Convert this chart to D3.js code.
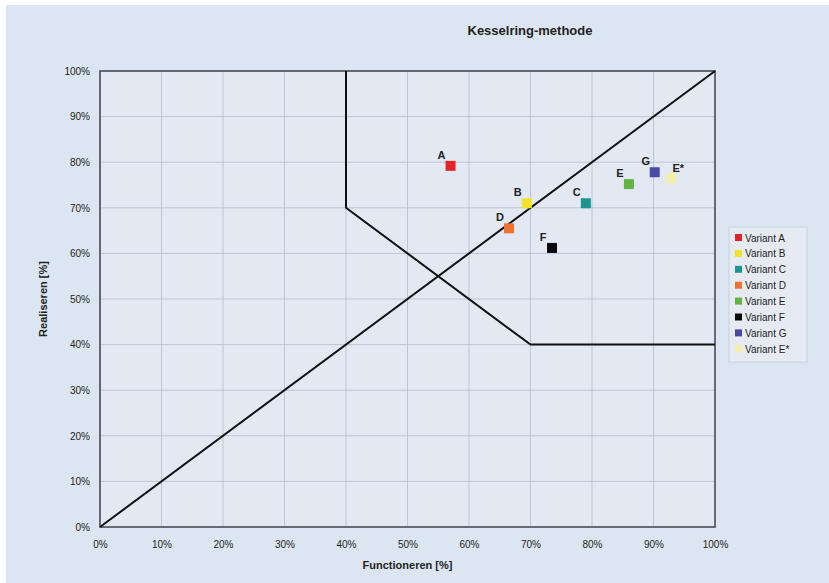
<!DOCTYPE html>
<html lang="nl">
<head>
  <meta charset="UTF-8" />
  <title>Kesselring-methode</title>
  <script src="https://d3js.org/d3.v7.min.js"></script>
  <style>
    html, body { margin: 0; padding: 0; background: #fff; }
    svg { display: block; font-family: "Liberation Sans", Arial, sans-serif; }
    .grid line { stroke: #b4bccb; stroke-width: 0.8px; }
    .tick text { fill: #222; font-size: 10px; }
    .frame { fill: none; stroke: #4a4f58; stroke-width: 1.6px; }
    .ref-line { fill: none; stroke: #111; stroke-width: 2px; }
  </style>
</head>
<body>
  <svg id="chart" width="829" height="583"></svg>

  <script>
    // variants: functioneren (x) vs realiseren (y), in %
    const labels = ['A', 'B', 'C', 'D', 'E', 'F', 'G', 'E*'];
    const legendNames = ['Variant A', 'Variant B', 'Variant C', 'Variant D', 'Variant E', 'Variant F', 'Variant G', 'Variant E*'];
    const functioneren = [57, 69.4, 79, 66.5, 86, 73.5, 90.2, 92.9];
    const realiseren = [79.2, 71, 71, 65.5, 75.2, 61.2, 77.8, 76.5];
    const colors = ['#e3242b', '#f2e227', '#1e9491', '#ee7333', '#62b343', '#0a0a0a', '#4a4aa6', '#f1f0a6'];

    // Kesselring boundary and diagonal
    const boundaryX = [40, 40, 70, 100];
    const boundaryY = [100, 70, 40, 40];
    const diagX = [0, 100];
    const diagY = [0, 100];

    const ticks = d3.range(0, 101, 10);

    const svg = d3.select('#chart');
    const W = 829, H = 583;
    const m = { left: 100, right: 715, top: 71, bottom: 527 };

    // page background with white strip on top/left
    svg.append('rect').attr('x', 0).attr('y', 0).attr('width', W).attr('height', H).attr('fill', '#fff');
    svg.append('rect').attr('x', 6).attr('y', 5).attr('width', W - 6).attr('height', H - 5).attr('fill', '#dce6f2');

    const x = d3.scaleLinear().domain([0, 100]).range([m.left, m.right]);
    const y = d3.scaleLinear().domain([0, 100]).range([m.bottom, m.top]);

    svg.append('rect')
      .attr('x', m.left).attr('y', m.top)
      .attr('width', m.right - m.left).attr('height', m.bottom - m.top)
      .attr('fill', '#e3e9f3');

    // grid
    const grid = svg.append('g').attr('class', 'grid');
    grid.selectAll('line.v').data(ticks).enter().append('line')
      .attr('x1', d => x(d)).attr('x2', d => x(d))
      .attr('y1', m.top).attr('y2', m.bottom);
    grid.selectAll('line.h').data(ticks).enter().append('line')
      .attr('y1', d => y(d)).attr('y2', d => y(d))
      .attr('x1', m.left).attr('x2', m.right);

    // axes
    const fmt = d => d + '%';
    const xAxis = svg.append('g').attr('transform', `translate(0,${m.bottom})`)
      .call(d3.axisBottom(x).tickValues(ticks).tickFormat(fmt).tickSize(0).tickPadding(14));
    const yAxis = svg.append('g').attr('transform', `translate(${m.left},0)`)
      .call(d3.axisLeft(y).tickValues(ticks).tickFormat(fmt).tickSize(0).tickPadding(10));
    [xAxis, yAxis].forEach(a => a.select('.domain').remove());

    svg.append('rect').attr('class', 'frame')
      .attr('x', m.left).attr('y', m.top)
      .attr('width', m.right - m.left).attr('height', m.bottom - m.top);

    // reference lines
    const line = d3.line().x(d => x(d[0])).y(d => y(d[1]));
    svg.append('path').attr('class', 'ref-line').attr('stroke-width', 1.6)
      .attr('d', line(d3.zip(diagX, diagY)));
    svg.append('path').attr('class', 'ref-line')
      .attr('d', line(d3.zip(boundaryX, boundaryY)));

    // points
    const pts = d3.range(labels.length).map(i => ({
      label: labels[i], fx: functioneren[i], ry: realiseren[i], color: colors[i]
    }));
    svg.selectAll('rect.pt').data(pts).enter().append('rect')
      .attr('class', 'pt')
      .attr('x', d => x(d.fx) - 5).attr('y', d => y(d.ry) - 5)
      .attr('width', 10).attr('height', 10)
      .attr('fill', d => d.color);
    svg.selectAll('text.pt-label').data(pts).enter().append('text')
      .attr('class', 'pt-label')
      .attr('x', d => x(d.fx) - 9).attr('y', d => y(d.ry) - 7)
      .attr('text-anchor', 'middle')
      .attr('font-size', 11).attr('font-weight', 'bold').attr('fill', '#222')
      .attr('dx', d => d.label === 'E*' ? 16 : 0)
      .attr('dy', d => d.label === 'E*' ? 1 : 0)
      .text(d => d.label);

    // titles
    svg.append('text').attr('x', 530).attr('y', 35).attr('text-anchor', 'middle')
      .attr('font-size', 13).attr('font-weight', 'bold').attr('fill', '#222')
      .text('Kesselring-methode');
    svg.append('text').attr('x', (m.left + m.right) / 2).attr('y', 569).attr('text-anchor', 'middle')
      .attr('font-size', 11).attr('font-weight', 'bold').attr('fill', '#222')
      .text('Functioneren [%]');
    svg.append('text').attr('transform', `translate(47,${(m.top + m.bottom) / 2}) rotate(-90)`)
      .attr('text-anchor', 'middle')
      .attr('font-size', 11).attr('font-weight', 'bold').attr('fill', '#222')
      .text('Realiseren [%]');

    // legend
    const lg = svg.append('g').attr('transform', 'translate(729,227)');
    lg.append('rect').attr('width', 78).attr('height', 135)
      .attr('fill', '#e6ebf3').attr('stroke', '#c4cad4').attr('stroke-width', 0.8);
    const items = lg.selectAll('g.item').data(legendNames).enter().append('g')
      .attr('class', 'item')
      .attr('transform', (d, i) => `translate(6,${11 + i * 15.9})`);
    items.append('rect').attr('x', 0).attr('y', -4).attr('width', 7).attr('height', 7)
      .attr('fill', (d, i) => colors[i]);
    items.append('text').attr('x', 10).attr('y', 0).attr('dy', '0.35em')
      .attr('font-size', 10).attr('fill', '#222').text(d => d);
  </script>
</body>
</html>
